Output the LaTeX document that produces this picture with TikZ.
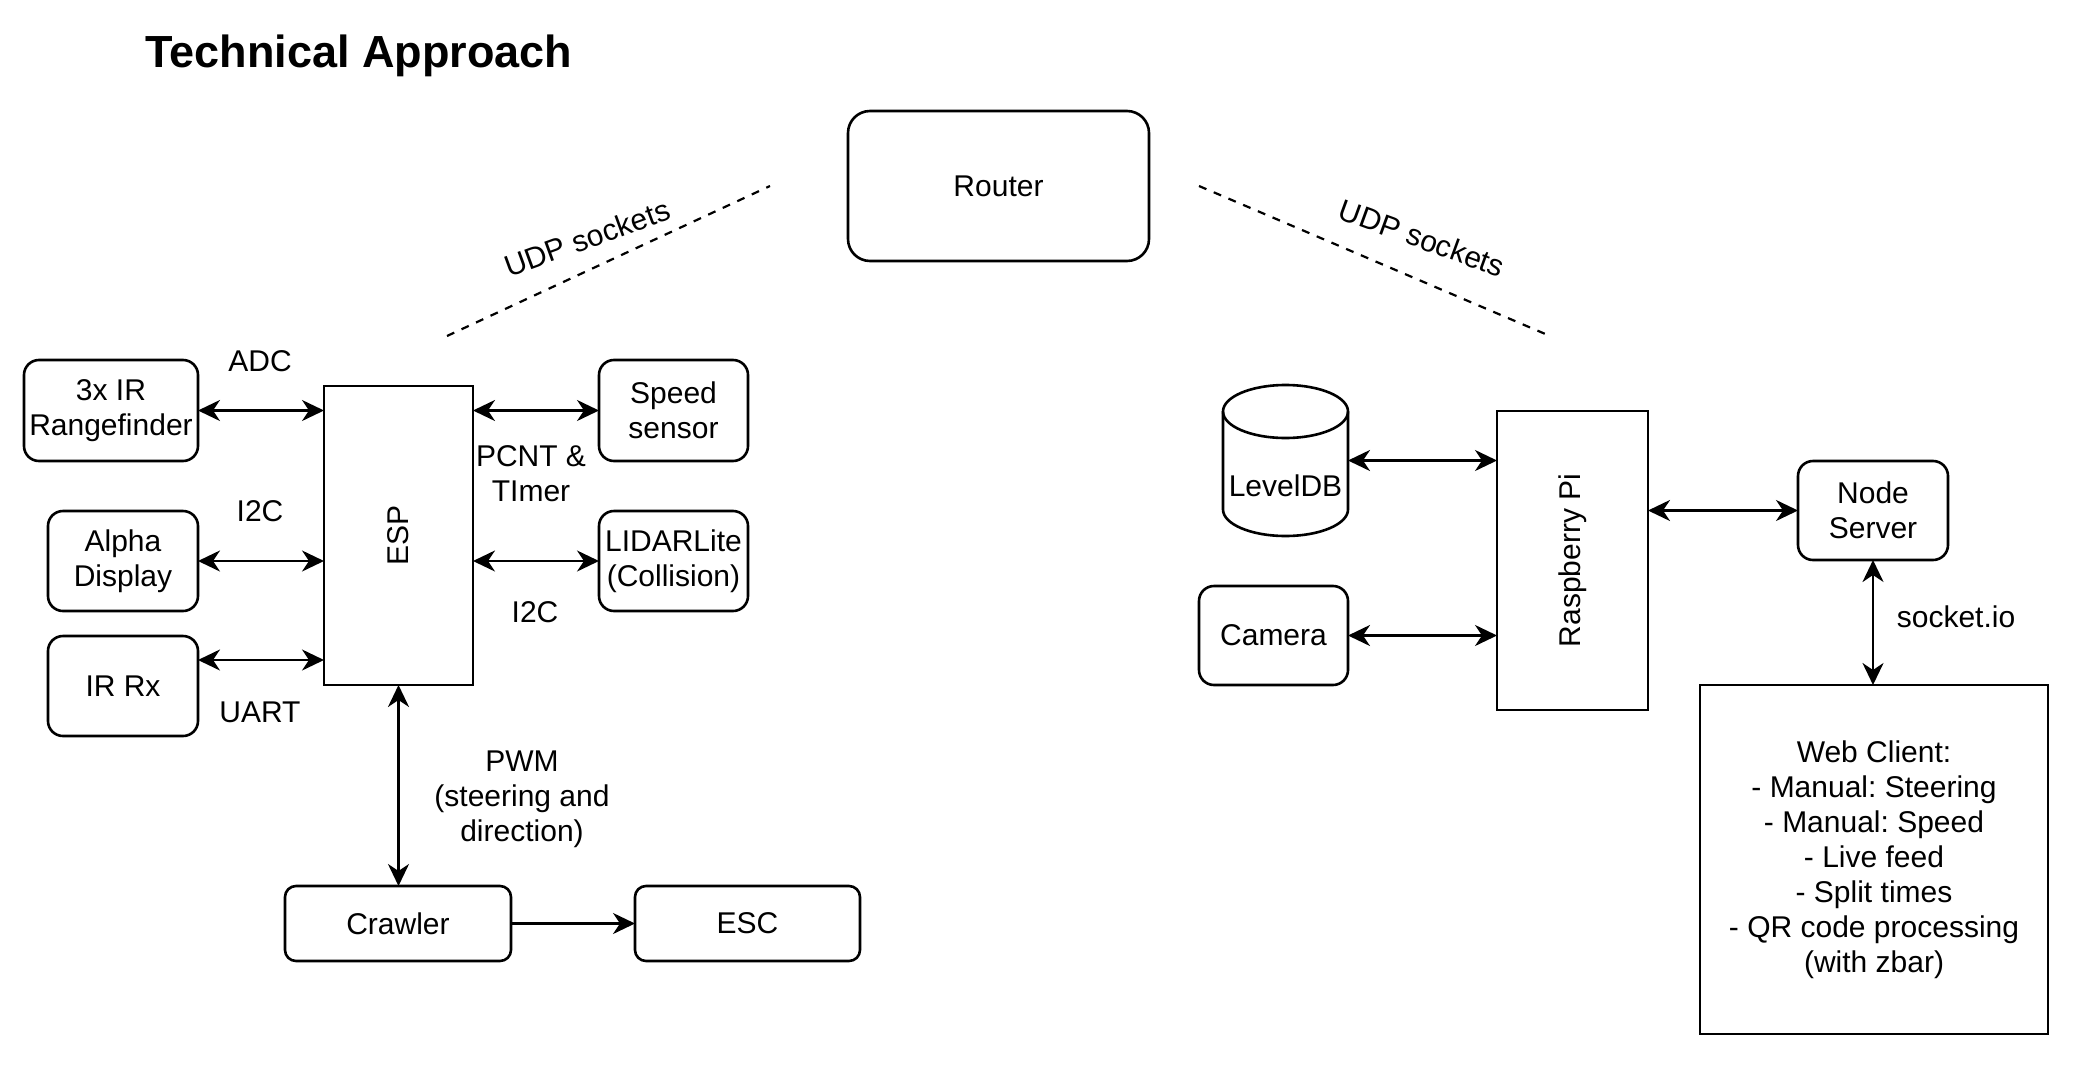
\documentclass[tikz,border=0pt]{standalone}
\usepackage{fontspec}
\setmainfont{Liberation Sans}
\usetikzlibrary{arrows.meta,calc}
\frenchspacing

\begin{document}
\begin{tikzpicture}[x=1pt,y=-1pt,
		every node/.style={font=\fontsize{30}{35}\selectfont},
		box/.style={draw,line width=2.6pt,rounded corners=15pt,inner sep=0pt,outer sep=0pt,align=center},
		sqbox/.style={draw,line width=2.6pt,inner sep=0pt,outer sep=0pt,align=center},
		link/.style={line width=2.6pt,{Stealth[length=22pt,width=21pt,inset=7pt]}-{Stealth[length=22pt,width=21pt,inset=7pt]}},
		onelink/.style={line width=2.6pt,-{Stealth[length=22pt,width=21pt,inset=7pt]}},
		udp/.style={line width=2.2pt,dash pattern=on 8pt off 8pt}]
		\useasboundingbox (0,0) rectangle (2082,1068);

		\node[anchor=west,font=\fontsize{45}{50}\selectfont\bfseries] (title) at (142,56) {Technical Approach};

		% ESP side
		\node[sqbox,minimum width=149pt,minimum height=299pt] (esp) at (398.5,535.5) {\rotatebox{90}{ESP}};
		\node[box,minimum width=174pt,minimum height=101pt] (rangefinder) at (111,410.5) {3x IR\\Rangefinder};
		\node[box,minimum width=150pt,minimum height=100pt] (alpha) at (123,561) {Alpha\\Display};
		\node[box,minimum width=150pt,minimum height=100pt] (irrx) at (123,686) {IR Rx};
		\node[box,minimum width=149pt,minimum height=101pt] (speed) at (673.5,410.5) {Speed\\sensor};
		\node[box,minimum width=149pt,minimum height=100pt] (lidar) at (673.5,561) {LIDARLite\\(Collision)};
		\node[box,rounded corners=11pt,minimum width=226pt,minimum height=75pt] (crawler) at (398,923.5) {Crawler};
		\node[box,rounded corners=11pt,minimum width=225pt,minimum height=75pt] (esc) at (747.5,923.5) {ESC};

		\draw[link] (rangefinder.east) -- (rangefinder.east -| esp.west);
		\draw[link] (alpha.east) -- (alpha.east -| esp.west);
		\draw[link] ([yshift=26pt]irrx.east) -- ([yshift=26pt]irrx.east -| esp.west);
		\draw[link] (speed.west -| esp.east) -- (speed.west);
		\draw[link] (lidar.west -| esp.east) -- (lidar.west);
		\draw[link] (esp.south) -- (esp.south |- crawler.north);
		\draw[onelink] (crawler.east) -- (esc.west);

		\node (adc) at (260,361) {ADC};
		\node (itwoc) at (260,511) {I2C};
		\node (uart) at (260,712) {UART};
		\node[align=center] (pcnt) at (531,474) {PCNT \&\\TImer};
		\node (itwocb) at (535,612) {I2C};
		\node[align=center] (pwm) at (522,799) {PWM\\(steering and\\direction)};

		% router and the two links
		\node[box,rounded corners=22pt,minimum width=301pt,minimum height=150pt] (router) at (998.5,186) {Router};
		\coordinate (UdpLeftA)  at (447,336);
		\coordinate (UdpLeftB)  at (770,186);
		\coordinate (UdpRightA) at (1199,186);
		\coordinate (UdpRightB) at (1550,336);
		\draw[udp] (UdpLeftA) -- (UdpLeftB);
		\draw[udp] (UdpRightA) -- (UdpRightB);
		\node[rotate=20] (udpleft) at (587,238) {UDP sockets};
		\node[rotate=-20] (udpright) at (1422,238) {UDP sockets};

		% Raspberry Pi side
		\node[sqbox,minimum width=151pt,minimum height=299pt] (rpi) at (1572.5,560.5) {\rotatebox{90}{Raspberry Pi}};
		\node[minimum width=125pt,minimum height=151pt,inner sep=0pt,outer sep=0pt] (leveldb) at (1285.5,460.5) {};
		\draw[line width=2.6pt] ([yshift=-26.5pt]leveldb.north west) -- ([yshift=26.5pt]leveldb.south west)
			arc[start angle=180,end angle=360,x radius=62.5pt,y radius=26.5pt] -- ([yshift=-26.5pt]leveldb.north east);
		\draw[line width=2.6pt] ([yshift=-26.5pt]leveldb.north) ellipse [x radius=62.5pt,y radius=26.5pt];
		\node (leveldbtext) at ([yshift=-25pt]leveldb.center) {LevelDB};
		\node[box,minimum width=149pt,minimum height=99pt] (camera) at (1273.5,635.5) {Camera};
		\node[box,minimum width=150pt,minimum height=99pt] (nodeserver) at (1873,510.5) {Node\\Server};
		\node[sqbox,minimum width=348pt,minimum height=349pt] (webclient) at (1874,859.5)
			{Web Client:\\- Manual: Steering\\- Manual: Speed\\- Live feed\\- Split times\\- QR code processing\\(with zbar)};

		\draw[link] (leveldb.east) -- (leveldb.east -| rpi.west);
		\draw[link] (camera.east) -- (camera.east -| rpi.west);
		\draw[link] (nodeserver.west -| rpi.east) -- (nodeserver.west);
		\draw[link] (nodeserver.south) -- (nodeserver.south |- webclient.north);
		\node (socketio) at (1956,617) {socket.io};
	  \end{tikzpicture}
\end{document}
